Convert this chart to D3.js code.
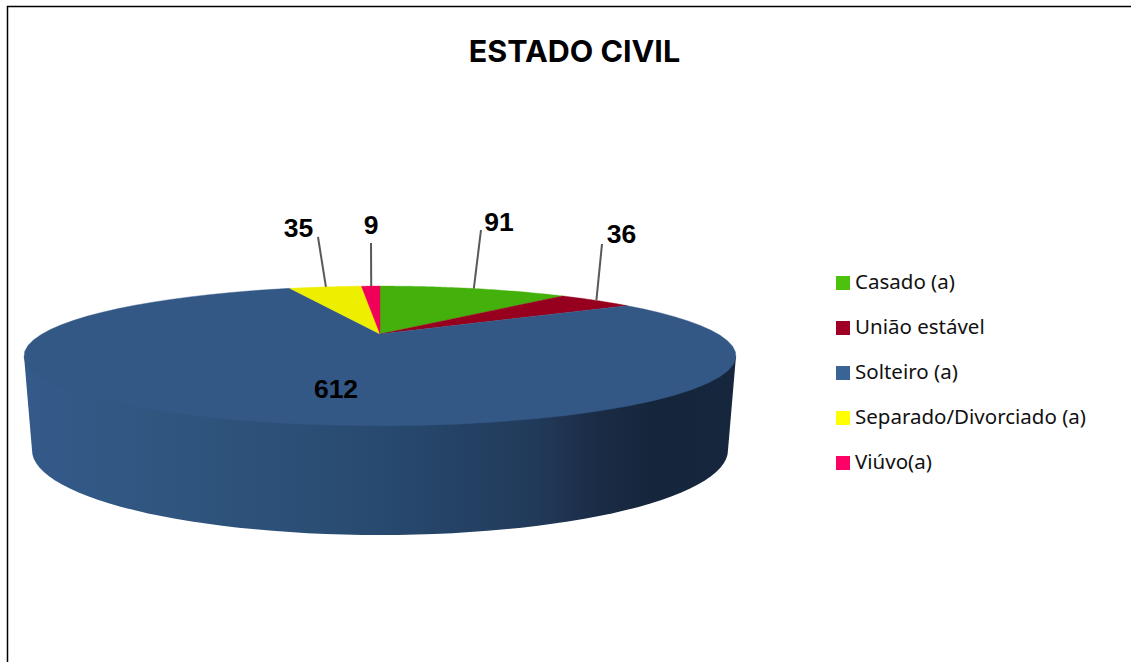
<!DOCTYPE html>
<html>
<head>
<meta charset="utf-8">
<script src="https://cdn.jsdelivr.net/npm/d3@7"></script>
<style>
  html, body { margin: 0; padding: 0; background: #fff; overflow: hidden; }
  svg { display: block; }
</style>
</head>
<body>
<svg id="chart"></svg>
<script>
const categories = ["Casado (a)", "União estável", "Solteiro (a)", "Separado/Divorciado (a)", "Viúvo(a)"];
const values = [91, 36, 612, 35, 9];
const sliceColors = ["#44b00b", "#96001e", "#335886", "#eeee00", "#f00058"];
const legendColors = ["#4cc20d", "#a00025", "#3a6496", "#ffff00", "#ff0066"];
const title = "ESTADO CIVIL";

const width = 1131;
const height = 662;

const svg = d3.select("#chart").attr("width", width).attr("height", height);

// tilted disc: unit circle pushed through a perspective, back edge is squeezed
const cx = 380, apexY = 334, radius = 338;
const persp = 0.314, lift = 41.9;
const project = (a) => {
  const u = Math.sin(a), v = Math.cos(a);
  const w = 1 + persp * v;
  return [cx + radius * u / w, (lift * v + apexY) / w];
};

const slices = d3.pie().value((d) => d).sort(null)(values);

const arcPoints = (start, end) =>
  d3.range(0, 61).map((i) => project(start + ((end - start) * i) / 60));

const line = d3.line();

// side wall shading
const defs = svg.append("defs");
const grad = defs.append("linearGradient")
  .attr("id", "wall")
  .attr("gradientUnits", "userSpaceOnUse")
  .attr("x1", 24).attr("x2", 736).attr("y1", 0).attr("y2", 0);
[[0, "#335a8a"], [0.2, "#30567f"], [0.5, "#284a70"], [0.72, "#213a5a"], [0.81, "#1a2b44"], [0.88, "#15263c"], [1, "#16273d"]]
  .forEach(([o, c]) => grad.append("stop").attr("offset", o).attr("stop-color", c));

// side wall: top rim widest points down to the lower rim
const wallTop = 356, wallBottom = 450, lowRx = 348, lowRy = 85;
const lowerRim = d3.range(0, 61).map((i) => {
  const t = (Math.PI * i) / 60;
  return [cx + lowRx * Math.cos(t), wallBottom + lowRy * Math.sin(t)];
});
const wall = [[cx + 356, wallTop], ...lowerRim, [cx - 356, wallTop]];
svg.append("path").attr("d", line(wall) + "Z").attr("fill", "url(#wall)");

// top face
svg.append("g")
  .selectAll("path")
  .data(slices)
  .join("path")
  .attr("d", (d) => line([[cx, apexY], ...arcPoints(d.startAngle, d.endAngle)]) + "Z")
  .attr("fill", (d, i) => sliceColors[i])
  .attr("stroke", (d, i) => sliceColors[i])
  .attr("stroke-width", 0.4);

// frame
svg.append("path")
  .attr("d", `M${width},6.5H7.5V${height}`)
  .attr("fill", "none")
  .attr("stroke", "#000")
  .attr("stroke-width", 1.5);

svg.append("text")
  .attr("x", 574.5).attr("y", 61.5)
  .attr("text-anchor", "middle")
  .attr("font-family", "Inter")
  .attr("font-weight", 700)
  .attr("font-size", 30.5)
  .attr("fill", "#000")
  .text(title);

// data labels, offsets are where the leader ends and where the number sits
const labelPos = [
  { lx: 481, ly: 230, tx: 499, ty: 231 },
  { lx: 602, ly: 244, tx: 621.5, ty: 243 },
  { tx: 336, ty: 398 },
  { lx: 318, ly: 237, tx: 298.5, ty: 237 },
  { lx: 371, ly: 243, tx: 371, ty: 234 },
];

const labels = svg.append("g");
slices.forEach((d, i) => {
  const p = labelPos[i];
  if (p.lx !== undefined) {
    const [ax, ay] = project((d.startAngle + d.endAngle) / 2);
    labels.append("line")
      .attr("x1", p.lx).attr("y1", p.ly)
      .attr("x2", ax + 0.5).attr("y2", ay)
      .attr("stroke", "#595959")
      .attr("stroke-width", 2);
  }
  labels.append("text")
    .attr("x", p.tx).attr("y", p.ty)
    .attr("text-anchor", "middle")
    .attr("font-family", "Liberation Sans")
    .attr("font-weight", 700)
    .attr("font-size", 26.5)
    .attr("fill", "#000")
    .text(d.value);
});

// legend
const legendY = d3.scalePoint().domain(categories).range([283, 463]);
const legend = svg.append("g")
  .selectAll("g")
  .data(categories)
  .join("g")
  .attr("transform", (d) => `translate(836,${legendY(d)})`);
legend.append("rect")
  .attr("y", -7).attr("width", 14).attr("height", 14)
  .attr("fill", (d, i) => legendColors[i]);
legend.append("text")
  .attr("x", 19).attr("y", 5.5)
  .attr("font-family", "Noto Sans")
  .attr("font-size", 20.5)
  .attr("fill", "#111")
  .text((d) => d);
</script>
</body>
</html>
